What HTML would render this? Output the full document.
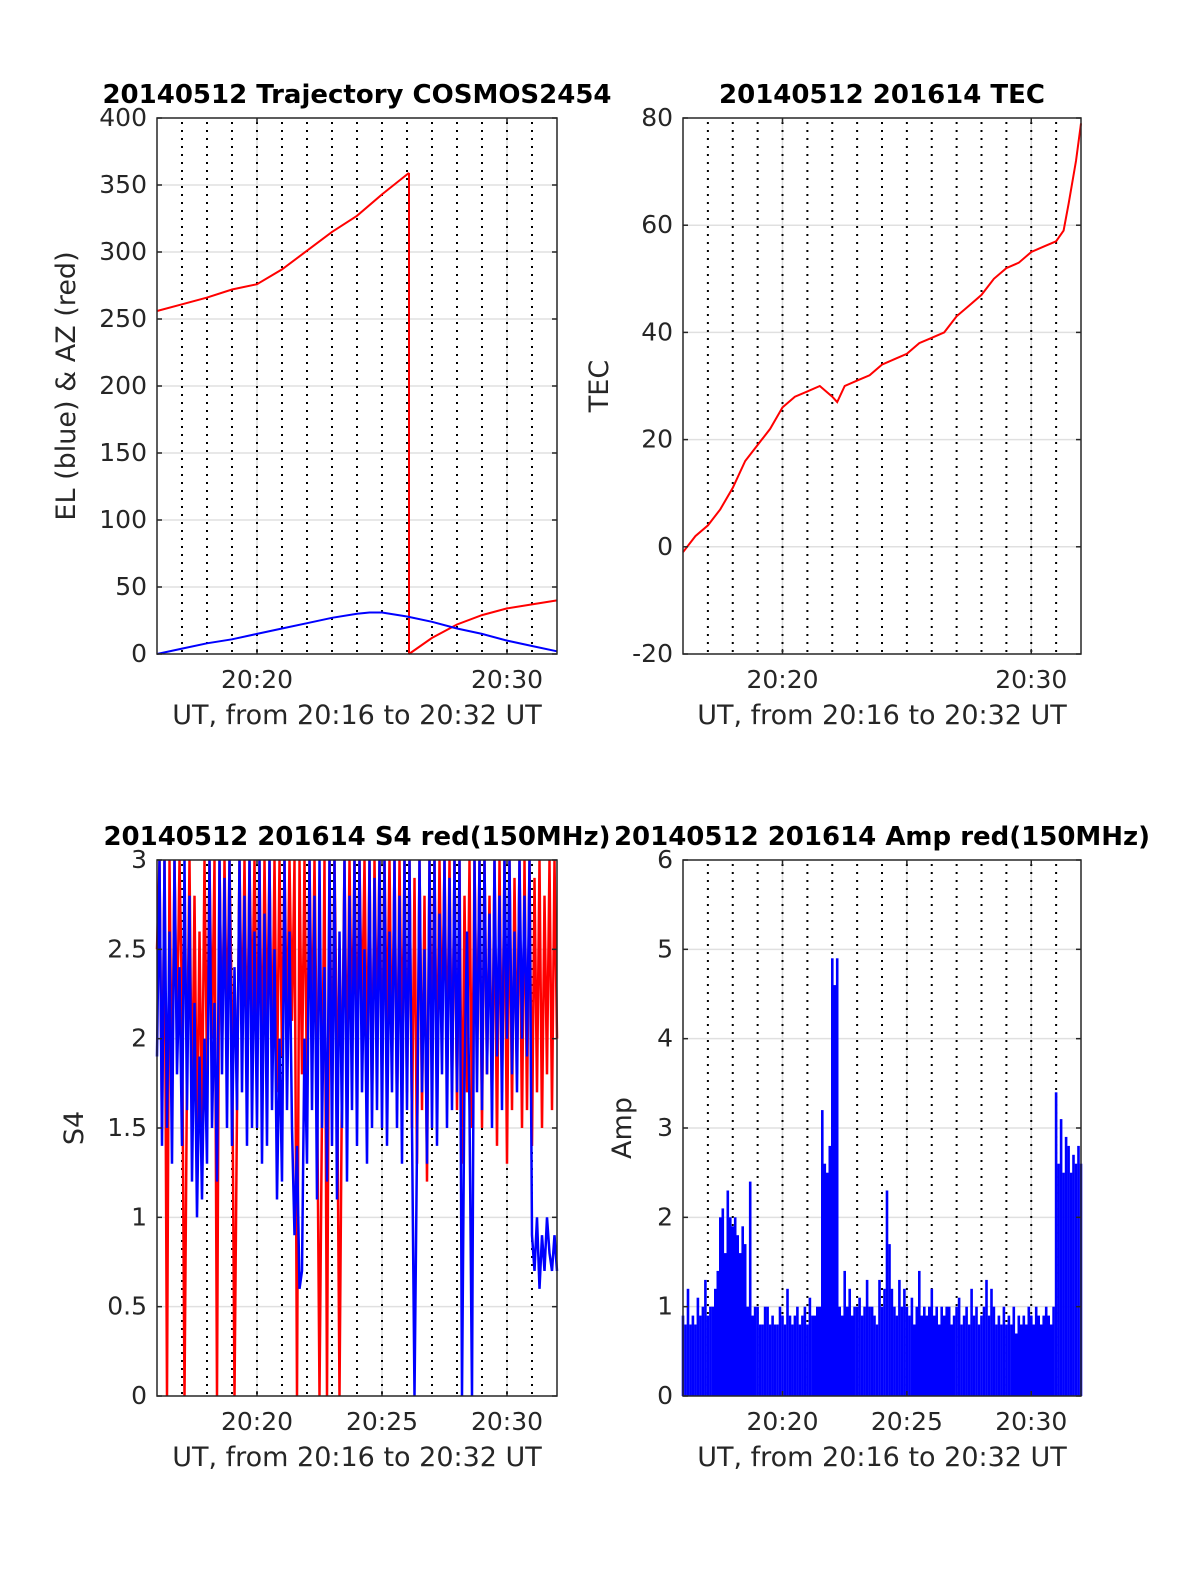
<!DOCTYPE html>
<html><head><meta charset="utf-8"><style>
html,body{margin:0;padding:0;background:#fff;}
svg{display:block;font-family:"DejaVu Sans","Liberation Sans",sans-serif;}
</style></head><body>
<svg id="fig" width="1200" height="1575" viewBox="0 0 1200 1575" xmlns="http://www.w3.org/2000/svg"></svg>
<script>
// ---- data ----
const azTimes = [16,17,18,19,20,21,22,23,24,25,26.08];
const azValues = [256,261,266,272,276,287,301,315,327,343,359];
const az2Times = [26.08,27,28,29,30,31,32];
const az2Values = [0,12,22,29,34,37,40];
const elTimes = [16,17,18,19,20,21,22,23,24,24.5,25,26,27,28,29,30,31,32];
const elValues = [0,4,8,11,15,19,23,27,30,31,31,28,24,19,15,10,6,2];
const tecTimes = [16,16.5,17,17.5,18,18.5,19,19.5,20,20.5,21,21.5,22,22.2,22.5,23,23.5,24,24.5,25,25.5,26,26.5,27,27.5,28,28.5,29,29.5,30,30.5,31,31.3,31.5,31.8,32];
const tecValues = [-1,2,4,7,11,16,19,22,26,28,29,30,28,27,30,31,32,34,35,36,38,39,40,43,45,47,50,52,53,55,56,57,59,64,72,79];
const s4Blue = [
1.9,3,1.4,3,1.5,2.6,1.3,3,1.8,2.4,
1.4,3,1.6,2.8,1.2,2.2,1.0,1.9,1.1,2.0,
1.3,3,1.5,2.2,1.2,3,1.8,2.9,1.5,3,
1.4,2.4,1.6,3,1.7,2.8,1.4,3,1.5,2.6,
1.5,3,1.3,2.7,1.4,3,1.6,2.5,1.1,2.0,
1.2,3,1.6,2.6,1.5,0.9,1.4,0.6,0.7,2.0,
1.3,3,1.6,2.8,1.1,3,1.5,2.4,1.2,3,
1.4,3,1.1,2.6,1.5,3,1.2,2.8,1.6,3,
1.4,3,1.7,2.5,1.3,3,1.5,2.9,1.6,3,
1.5,3,1.4,2.6,1.7,3,1.5,2.8,1.3,3,
1.6,3,1.5,0,1.4,3,1.7,2.5,1.3,3,
1.5,3,1.4,2.7,1.8,3,1.5,2.9,1.6,3,
1.7,3,0,1.8,2.6,1.6,0,3,1.7,3,
1.6,3,1.8,2.7,1.5,3,1.9,2.8,1.6,3,
2.0,3,1.8,2.6,1.7,3,2.0,2.8,1.9,3,
0.9,0.7,1.0,0.6,0.9,0.7,1.0,0.8,0.7,0.9,
0.7];
const s4Red = [
2.5,3,1.5,3,0,3,1.6,3,2.0,3,
2.2,0,1.8,3,1.5,2.8,1.4,2.6,1.5,3,
1.8,3,2.0,3,0,3,1.9,3,2.0,3,
2.1,0,1.6,3,2.0,3,1.8,3,2.1,3,
1.9,3,1.8,3,2.0,3,1.8,3,1.7,3,
1.9,3,2.0,3,2.1,3,0,3,1.8,3,
1.7,3,2.0,3,1.8,0,1.6,3,0,3,
1.6,3,1.9,0,1.8,3,1.7,3,2.0,3,
1.9,3,2.1,3,1.8,3,1.6,3,2.0,3,
1.7,3,2.0,3,1.8,3,1.6,3,1.9,3,
1.7,3,1.5,2.9,1.3,3,1.6,2.8,1.2,3,
1.9,3,1.7,3,2.0,3,1.8,3,1.7,3,
1.6,3,1.3,2.8,1.7,3,1.5,3,1.9,3,
1.5,3,1.8,2.8,1.6,3,1.4,3,1.7,3,
1.3,3,1.6,2.9,1.8,3,1.5,3,1.6,3,
1.4,2.9,1.7,3,1.5,2.8,1.8,3,1.6,3,
2.0];
const ampValues = [
0.9,0.8,1.2,0.8,0.9,0.8,1.1,0.9,1.0,1.3,
0.9,1.0,1.0,1.2,1.4,2.0,2.1,1.6,2.3,2.0,
1.9,2.0,1.8,1.6,1.9,1.7,1.0,2.4,0.9,1.0,
1.0,0.8,0.8,1.0,1.0,0.8,0.9,0.8,0.8,1.0,
0.9,0.8,1.2,0.9,0.8,0.9,1.0,0.8,0.9,1.0,
0.8,1.1,0.9,0.9,1.0,1.0,3.2,2.6,2.5,2.8,
4.9,4.6,4.9,1.0,0.9,1.4,1.0,1.2,0.9,1.0,
1.0,1.1,0.9,1.0,1.3,1.0,1.0,0.9,0.8,1.3,
1.0,1.2,2.3,1.7,1.2,1.0,0.9,1.3,1.0,1.2,
1.0,0.9,1.1,0.8,1.0,1.4,0.9,1.0,0.9,1.0,
1.2,0.9,1.0,0.8,1.0,0.9,1.0,1.0,0.8,0.9,
1.0,1.1,0.8,0.9,1.0,0.8,1.2,0.9,1.0,0.8,
0.9,1.0,1.3,0.9,1.2,1.0,0.8,0.9,0.8,1.0,
0.8,0.9,0.8,1.0,0.7,0.9,0.8,0.9,0.8,1.0,
0.9,0.8,1.0,0.9,0.8,0.9,1.0,0.9,0.8,1.0,
3.4,2.6,3.1,2.5,2.9,2.8,2.5,2.7,2.6,2.8,
2.6];
const trajTicks = [0,50,100,150,200,250,300,350,400];
const tecTicks = [-20,0,20,40,60,80];
const s4Ticks = [0,0.5,1,1.5,2,2.5,3];
const ampTicks = [0,1,2,3,4,5,6];

// ---- drawing ----
const NS = "http://www.w3.org/2000/svg";
const svg = document.getElementById('fig');
function mk(tag, attrs, parent){
  const e = document.createElementNS(NS, tag);
  for (const k in attrs) e.setAttribute(k, attrs[k]);
  (parent||svg).appendChild(e);
  return e;
}
function panel(name, L, T, W, H, ymin, ymax, yticks, xLabeled, title, ylabel, ylOff){
  const g = mk('g', {});
  
  
  const sx = t => L + (t - 16) / 16 * W;
  const sy = v => T + H - (v - ymin) / (ymax - ymin) * H;
  yticks.forEach(v => { if (v!==ymin && v!==ymax) mk('line',{x1:L,x2:L+W,y1:sy(v),y2:sy(v),stroke:'#e0e0e0','stroke-width':1.5},g); });
  xLabeled.forEach(t => mk('line',{x1:sx(t),x2:sx(t),y1:T,y2:T+H,stroke:'#e0e0e0','stroke-width':1.5},g));
  for (let m = 17; m < 32; m++) mk('line',{x1:sx(m),x2:sx(m),y1:T+4,y2:T+H,stroke:'#000','stroke-width':2,'stroke-dasharray':'2 6'},g);
  const plot = mk('g', {}, g);
  mk('rect',{x:L,y:T,width:W,height:H,fill:'none',stroke:'#262626','stroke-width':1.5},g);
  yticks.forEach(v => {
    mk('line',{x1:L,x2:L+5,y1:sy(v),y2:sy(v),stroke:'#262626','stroke-width':1.5},g);
    mk('line',{x1:L+W,x2:L+W-5,y1:sy(v),y2:sy(v),stroke:'#262626','stroke-width':1.5},g);
    const tx = mk('text',{x:L-10,y:sy(v)+8,'text-anchor':'end','font-size':25,fill:'#262626'},g);
    tx.textContent = String(v);
    
    
  });
  xLabeled.forEach(t => {
    mk('line',{x1:sx(t),x2:sx(t),y1:T+H,y2:T+H-5,stroke:'#262626','stroke-width':1.5},g);
    mk('line',{x1:sx(t),x2:sx(t),y1:T,y2:T+5,stroke:'#262626','stroke-width':1.5},g);
    const tx = mk('text',{x:sx(t),y:T+H+34,'text-anchor':'middle','font-size':25,fill:'#262626'},g);
    tx.textContent = '20:' + t;
    
    
  });
  const xl = mk('text',{x:L+W/2,y:T+H+70,'text-anchor':'middle','font-size':27,fill:'#262626'},g);
  xl.textContent = 'UT, from 20:16 to 20:32 UT';
  
  
  const tt = mk('text',{x:L+W/2,y:T-15,'text-anchor':'middle','font-size':26,'font-weight':'bold',fill:'#000'},g);
  tt.textContent = title;
  
  
  const yl = mk('text',{x:0,y:0,'text-anchor':'middle','font-size':27,fill:'#262626',transform:`translate(${L-ylOff},${T+H/2}) rotate(-90)`},g);
  yl.textContent = ylabel;
  
  
  return {sx, sy, plot};
}
function line(p, times, vals, color, name, w){
  const d = times.map((t,i)=> (i?'L':'M') + p.sx(t).toFixed(1) + ' ' + p.sy(vals[i]).toFixed(1)).join(' ');
  const e = mk('path',{d, fill:'none', stroke:color, 'stroke-width':w||2}, p.plot);
  
  
}
const dense = n => n.map((_,i)=>16 + i*0.1);

const p1 = panel('trajectory-panel',157,118,400,536,0,400,trajTicks,[20,30],'20140512 Trajectory COSMOS2454','EL (blue) & AZ (red)',82);
line(p1, azTimes, azValues, '#ff0000', 'azimuth-line');
line(p1, [26.08,26.08], [359,0], '#ff0000', 'azimuth-wrap');
line(p1, az2Times, az2Values, '#ff0000', 'azimuth-line-2');
line(p1, elTimes, elValues, '#0000ff', 'elevation-line');

const p2 = panel('tec-panel',683,118,398,536,-20,80,tecTicks,[20,30],'20140512 201614 TEC','TEC',75);
line(p2, tecTimes, tecValues, '#ff0000', 'tec-line');

const p3 = panel('s4-panel',157,860,400,536,0,3,s4Ticks,[20,25,30],'20140512 201614 S4 red(150MHz)','S4',74);
line(p3, dense(s4Red), s4Red, '#ff0000', 's4-red-line', 2.5);
line(p3, dense(s4Blue), s4Blue, '#0000ff', 's4-blue-line', 2.5);

const p4 = panel('amp-panel',683,860,398,536,0,6,ampTicks,[20,25,30],'20140512 201614 Amp red(150MHz)','Amp',52);
ampValues.forEach((v,i)=>{
  const t = 16 + i*0.1;
  const x = p4.sx(t), y = p4.sy(v);
  const r = mk('rect',{x:(x-1.3).toFixed(1), y:y.toFixed(1), width:2.6, height:(p4.sy(0)-y).toFixed(1), fill:'#0000ff'}, p4.plot);
  
  
});
</script>
</body></html>
